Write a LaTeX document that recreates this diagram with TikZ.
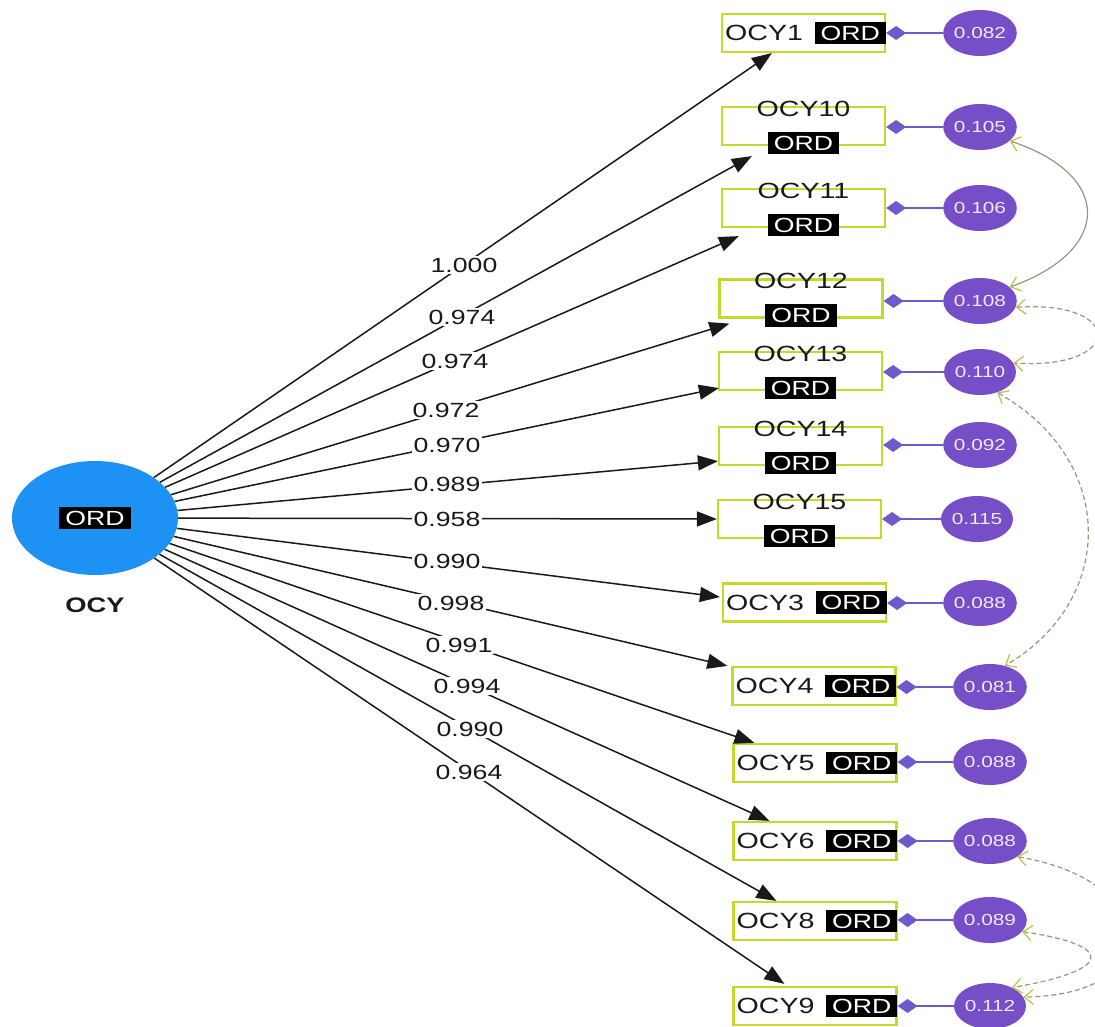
\documentclass[tikz,border=0pt]{standalone}
\usepackage{fontspec}
\setmainfont{Liberation Sans}
\newfontfamily\semfont{Liberation Sans}[FakeStretch=1.3]
\usetikzlibrary{arrows.meta,shapes.geometric}

\definecolor{latentblue}{RGB}{30,145,245}
\definecolor{boxgreen}{RGB}{195,218,40}
\definecolor{respurple}{RGB}{118,78,200}
\definecolor{reslink}{RGB}{110,90,205}
\definecolor{covgray}{RGB}{150,150,125}
\definecolor{covtip}{RGB}{185,195,70}
\definecolor{inktext}{RGB}{25,25,25}

\tikzset{
  latent/.style={ellipse,fill=latentblue,minimum width=166pt,minimum height=114pt,inner sep=0pt},
  ordtag/.style={fill=black,text=white,font=\semfont\fontsize{20.5}{20}\selectfont,
    inner xsep=6pt,inner ysep=4pt,text height=14.5pt,text depth=0pt},
  obsbox/.style={draw=boxgreen,line width=2.2pt,minimum width=163pt,minimum height=38pt,inner sep=0pt},
  obsname/.style={font=\semfont\fontsize{22}{22}\selectfont,text=inktext,inner sep=0pt},
  resid/.style={ellipse,fill=respurple,minimum width=72pt,minimum height=46pt,inner sep=0pt,
    text=white!88!respurple,font=\semfont\fontsize{16}{16}\selectfont},
  loading/.style={line width=1.5pt,draw=inktext,-{Triangle[length=20pt,width=15pt]}},
  loadlbl/.style={fill=white,inner sep=1.5pt,text=inktext,font=\semfont\fontsize{20.5}{20}\selectfont},
  residlink/.style={draw=reslink,line width=1.5pt,-{Diamond[length=20pt,width=14pt]}},
  cov/.style={draw=covgray,line width=1.2pt,
    {Straight Barb[length=9pt,width=15pt,color=covtip]}-{Straight Barb[length=9pt,width=15pt,color=covtip]}},
  covdash/.style={cov,dash pattern=on 5pt off 3pt},
}

\begin{document}
\begin{tikzpicture}[x=1pt,y=-1pt]
\useasboundingbox (0,0) rectangle (1095,1027);

% latent factor
\node[latent] (ocy) at (95,518) {};
\node[ordtag] (ocytag) at (ocy.center) {ORD};
\node[font=\semfont\bfseries\fontsize{21}{21}\selectfont,text=inktext] (ocyname) at (95,605) {OCY};

% indicators with name and ORD tag on one line
\foreach \id/\x/\y in {1/803.5/33, 3/804.5/602.5, 4/814/686, 5/815/763, 6/815/841, 8/815/921, 9/815/1006} {
  \node[obsbox] (b\id) at (\x,\y) {};
  \node[obsname,anchor=west] (n\id) at ([xshift=4pt]b\id.west) {OCY\id};
  \node[ordtag,anchor=east] (t\id) at (b\id.east) {ORD};
}

% indicators with name above and ORD tag below
\foreach \id/\x/\y in {10/803.5/126, 11/803.5/208, 12/801/298.5, 13/800.5/371, 14/800.5/446, 15/799.5/519} {
  \node[obsbox] (b\id) at (\x,\y) {};
  \node[obsname] (n\id) at ([yshift=-3pt]b\id.north) {OCY\id};
  \node[ordtag] (t\id) at ([yshift=3pt]b\id.south) {ORD};
}

% residual variances
\foreach \id/\x/\y/\v in {1/980/33/0.082, 10/980/127/0.105, 11/980/208/0.106, 12/980/301/0.108,
    13/980/372/0.110, 14/980/445/0.092, 15/977/519/0.115, 3/980/603/0.088, 4/990/687/0.081,
    5/990/762/0.088, 6/990/841/0.088, 8/990/920/0.089, 9/990/1006/0.112} {
  \node[resid] (r\id) at (\x,\y) {\v};
  \draw[residlink] (r\id) -- (r\id -| b\id.east);
}

% factor loadings
\draw[loading] (ocy) -- ([xshift=51pt]b1.south west);
\draw[loading] (ocy) -- ([xshift=31pt,yshift=-10pt]b10.south west);
\draw[loading] (ocy) -- ([xshift=18pt,yshift=-8pt]b11.south west);
\draw[loading] (ocy) -- ([xshift=11pt,yshift=-5pt]b12.south west);
\draw[loading] (ocy) -- ([xshift=1pt,yshift=3pt]b13.south west);
\draw[loading] (ocy) -- ([yshift=5pt]b14.south west);
\draw[loading] (ocy) -- (b15.west);
\draw[loading] (ocy) -- ([xshift=-2pt,yshift=5.5pt]b3.west);
\draw[loading] (ocy) -- ([xshift=-4pt]b4.north west);
\draw[loading] (ocy) -- ([xshift=22pt]b5.north west);
\draw[loading] (ocy) -- ([xshift=37pt]b6.north west);
\draw[loading] (ocy) -- ([xshift=44pt]b8.north west);
\draw[loading] (ocy) -- ([xshift=52pt,yshift=2pt]b9.north west);

% loading values
\node[loadlbl] (l1)  at (464,265) {1.000};
\node[loadlbl] (l10) at (462,317) {0.974};
\node[loadlbl] (l11) at (455,361) {0.974};
\node[loadlbl] (l12) at (446,410) {0.972};
\node[loadlbl] (l13) at (447,445) {0.970};
\node[loadlbl] (l14) at (447,484) {0.989};
\node[loadlbl] (l15) at (447,519) {0.958};
\node[loadlbl] (l3)  at (447,561) {0.990};
\node[loadlbl] (l4)  at (451,603) {0.998};
\node[loadlbl] (l5)  at (459,645) {0.991};
\node[loadlbl] (l6)  at (467,686) {0.994};
\node[loadlbl] (l8)  at (470,729) {0.990};
\node[loadlbl] (l9)  at (469,772) {0.964};

% residual covariances
\draw[cov] (r10.-25) .. controls (1113,175) and (1113,250) .. (r12.25);
\draw[covdash] (r12.-10) .. controls (1125,300) and (1125,370) .. (r13.15);
\draw[covdash] (r13.-50) .. controls (1117,460) and (1117,600) .. (r4.55);
\draw[covdash] (r6.-30) .. controls (1160,880) and (1170,995) .. (r9.15);
\draw[covdash] (r8.-20) .. controls (1115,945) and (1115,970) .. (r9.40);
\end{tikzpicture}
\end{document}
